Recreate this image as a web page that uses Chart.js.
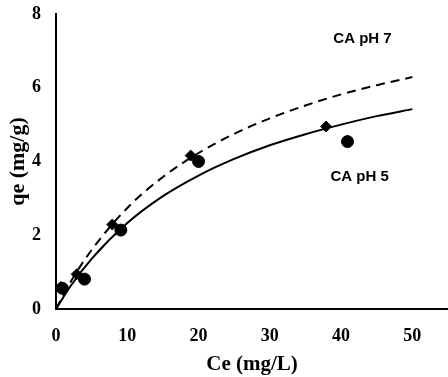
<!DOCTYPE html>
<html>
<head>
<meta charset="utf-8">
<script src="https://cdn.jsdelivr.net/npm/chart.js@4"></script>
<style>
  body { margin: 0; background: #fff; }
  canvas { display: block; }
</style>
</head>
<body>
<canvas id="isotherm" width="448" height="377"></canvas>
<script>
// measured points
const ph5Ce = [0.9, 4.0, 9.1, 20.0, 40.9];
const ph5Qe = [0.56, 0.81, 2.14, 4.0, 4.54];
const ph7Ce = [0.7, 2.9, 7.9, 18.9, 37.9];
const ph7Qe = [0.6, 0.94, 2.29, 4.16, 4.95];

// fitted curves
const fitCe = [0, 2, 5, 10, 15, 20, 25, 30, 35, 40, 45, 50];
const fitPh5 = [0, 0.61, 1.36, 2.33, 3.06, 3.62, 4.07, 4.44, 4.74, 5.0, 5.23, 5.42];
const fitPh7 = [0, 0.72, 1.6, 2.74, 3.58, 4.23, 4.75, 5.17, 5.52, 5.82, 6.07, 6.29];

const xTicks = [0, 10, 20, 30, 40, 50];
const yTicks = [0, 2, 4, 6, 8];

const seriesLabels = [
  { text: 'CA pH 7', x: 43.0, y: 7.32 },
  { text: 'CA pH 5', x: 42.6, y: 3.57 },
];

const pts = (xs, ys) => xs.map((x, i) => ({ x: x, y: ys[i] }));

const tickFont = { family: '"Liberation Serif", "Times New Roman", serif', size: 18, weight: 'bold' };

const seriesText = {
  id: 'seriesText',
  afterDatasetsDraw(chart) {
    const { ctx, scales } = chart;
    ctx.save();
    ctx.fillStyle = '#000';
    ctx.font = 'bold 15px "Liberation Sans", Arial, sans-serif';
    ctx.textAlign = 'center';
    ctx.textBaseline = 'middle';
    seriesLabels.forEach(l => {
      ctx.fillText(l.text, scales.x.getPixelForValue(l.x), scales.y.getPixelForValue(l.y));
    });
    ctx.restore();
  },
};

Chart.defaults.color = '#000';

new Chart(document.getElementById('isotherm'), {
  type: 'scatter',
  data: {
    datasets: [
      {
        label: 'pH 7 data',
        data: pts(ph7Ce, ph7Qe),
        pointStyle: 'rectRot',
        pointRadius: 5.5,
        backgroundColor: '#000',
        borderColor: '#000',
        order: 0,
      },
      {
        label: 'pH 5 data',
        data: pts(ph5Ce, ph5Qe),
        pointStyle: 'circle',
        pointRadius: 6,
        backgroundColor: '#000',
        borderColor: '#000',
        order: 0,
      },
      {
        label: 'pH 7 fit',
        data: pts(fitCe, fitPh7),
        showLine: true,
        pointRadius: 0,
        borderColor: '#000',
        borderWidth: 2,
        borderDash: [9, 6],
        cubicInterpolationMode: 'monotone',
        order: 1,
      },
      {
        label: 'pH 5 fit',
        data: pts(fitCe, fitPh5),
        showLine: true,
        pointRadius: 0,
        borderColor: '#000',
        borderWidth: 2,
        cubicInterpolationMode: 'monotone',
        order: 1,
      },
    ],
  },
  options: {
    responsive: false,
    animation: false,
    layout: { autoPadding: false, padding: { top: 14, right: 0, left: 0, bottom: 0 } },
    plugins: {
      legend: { display: false },
      tooltip: { enabled: false },
    },
    scales: {
      x: {
        type: 'linear',
        min: 0,
        max: 55,
        grid: { display: false, drawTicks: false, tickLength: 0 },
        border: { display: true, color: '#000', width: 2 },
        ticks: { font: tickFont, padding: 17 },
        afterBuildTicks: s => { s.ticks = xTicks.map(v => ({ value: v })); },
        afterFit: s => { s.height = 68; s.paddingLeft = 0; s.paddingRight = 0; },
        title: {
          display: true,
          text: 'Ce (mg/L)',
          font: { family: '"Liberation Serif", "Times New Roman", serif', size: 21, weight: 'bold' },
          padding: { top: 0, bottom: 0 },
        },
      },
      y: {
        min: 0,
        max: 8,
        grid: { display: false, drawTicks: false, tickLength: 0 },
        border: { display: true, color: '#000', width: 2 },
        ticks: { font: tickFont, padding: 15 },
        afterBuildTicks: s => { s.ticks = yTicks.map(v => ({ value: v })); },
        afterFit: s => { s.width = 56; s.paddingTop = 0; s.paddingBottom = 0; },
        title: {
          display: true,
          text: 'qe (mg/g)',
          font: { family: '"Liberation Serif", "Times New Roman", serif', size: 22, weight: 'bold' },
          padding: { top: 5, bottom: 0 },
        },
      },
    },
  },
  plugins: [seriesText],
});
</script>
</body>
</html>
